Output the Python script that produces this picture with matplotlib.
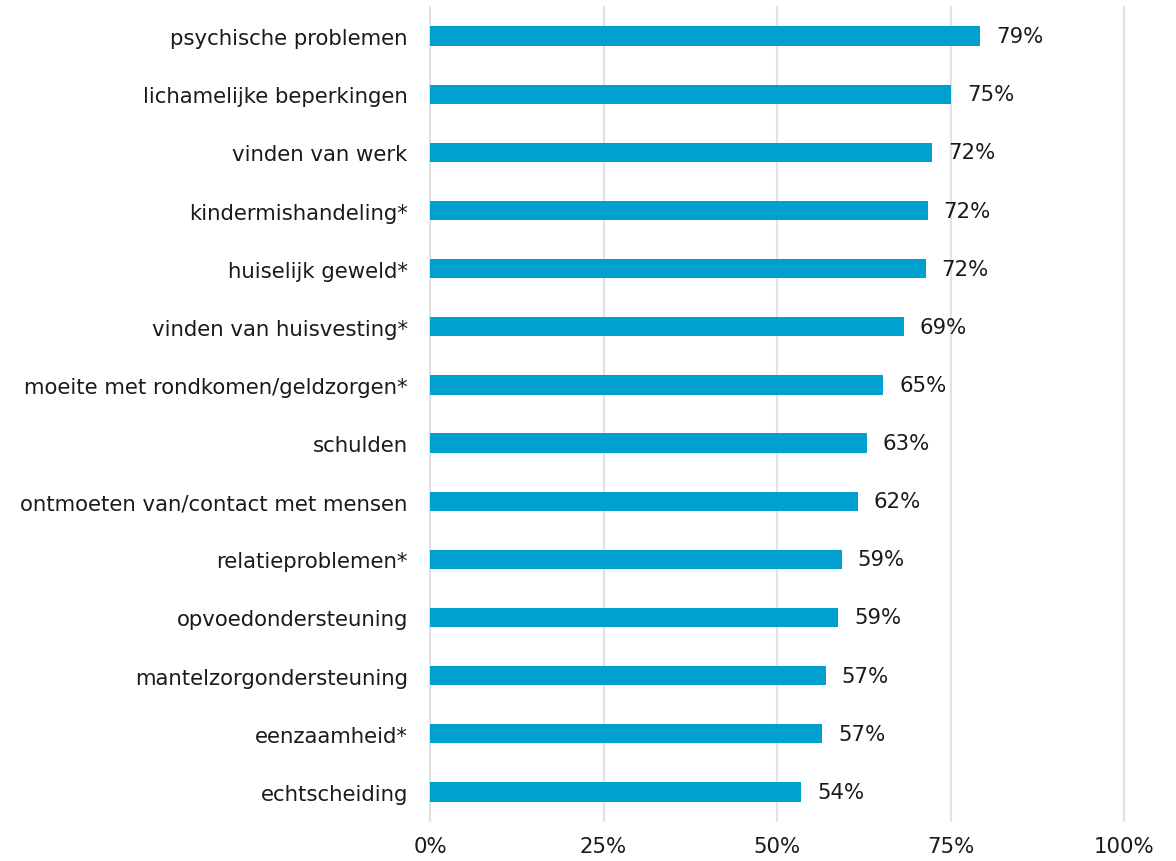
import matplotlib
matplotlib.use("Agg")
import matplotlib.pyplot as plt
from matplotlib.ticker import FuncFormatter

categories = [
    "psychische problemen",
    "lichamelijke beperkingen",
    "vinden van werk",
    "kindermishandeling*",
    "huiselijk geweld*",
    "vinden van huisvesting*",
    "moeite met rondkomen/geldzorgen*",
    "schulden",
    "ontmoeten van/contact met mensen",
    "relatieproblemen*",
    "opvoedondersteuning",
    "mantelzorgondersteuning",
    "eenzaamheid*",
    "echtscheiding",
]
values = [79.3, 75.1, 72.4, 71.7, 71.4, 68.3, 65.3, 62.9, 61.6, 59.3, 58.8, 57.0, 56.5, 53.5]
labels = ["79%", "75%", "72%", "72%", "72%", "69%", "65%", "63%", "62%", "59%", "59%", "57%", "57%", "54%"]
xticks = [0, 25, 50, 75, 100]

BAR = "#00A1D1"
FS = 15.3

fig = plt.figure(figsize=(11.76, 8.62), dpi=100)
ax = fig.add_axes([430 / 1176, 1 - 822 / 862, 694 / 1176, 814 / 862])

y = list(range(len(categories)))
ax.barh(y, values, height=0.33, color=BAR, zorder=3)
for yi, v, lab in zip(y, values, labels):
    ax.text(v + 2.3, yi, lab, va="center", ha="left", fontsize=FS, color="#1a1a1a")

ax.set_xlim(0, 100)
ax.set_ylim(len(categories) - 0.5, -0.5)
ax.set_yticks(y)
ax.set_yticklabels(categories, fontsize=FS, color="#1a1a1a")
ax.set_xticks(xticks)
ax.xaxis.set_major_formatter(FuncFormatter(lambda v, p: f"{v:.0f}%"))
ax.tick_params(axis="x", labelsize=FS, colors="#1a1a1a", length=0, pad=11)
ax.tick_params(axis="y", length=0, pad=16)
ax.grid(axis="x", color="#e2e2e2", lw=1.5, zorder=0)
for gl in ax.get_xgridlines():
    gl.set_clip_on(False)
for s in ax.spines.values():
    s.set_visible(False)

fig.savefig("out.png", dpi=100)
